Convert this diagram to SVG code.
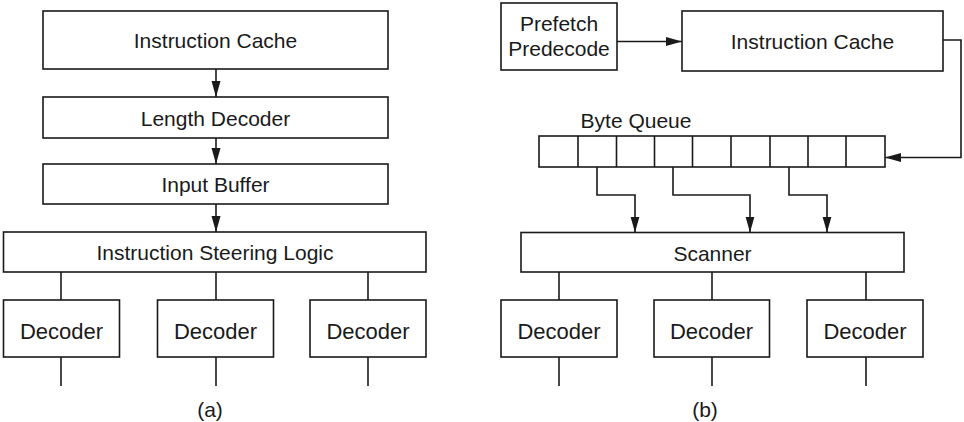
<svg xmlns="http://www.w3.org/2000/svg" width="964" height="422" viewBox="0 0 964 422">
<defs>
<style>
rect{fill:#fff;stroke:#1a1a1a;stroke-width:1.6}
.c{fill:none;stroke:#1a1a1a;stroke-width:1.6}
.a{marker-end:url(#ah)}
text{font-family:"Liberation Sans",Arial,sans-serif;font-size:21px;fill:#1a1a1a;text-anchor:middle}
.d{font-size:22px}
</style>
<marker id="ah" markerUnits="userSpaceOnUse" markerWidth="16" markerHeight="10" refX="16" refY="4.5" orient="auto" viewBox="0 0 16 9">
<path d="M0,0 L16,4.5 L0,9 Z" fill="#1a1a1a"/>
</marker>
</defs>
<rect x="0" y="0" width="964" height="422" style="fill:#fff;stroke:none"/>
<g id="connectors">
<line class="c a" x1="216" y1="69" x2="216" y2="97"/>
<line class="c a" x1="216" y1="138" x2="216" y2="164"/>
<line class="c a" x1="216" y1="204" x2="216" y2="232"/>
<line class="c" x1="61" y1="272" x2="61" y2="300"/>
<line class="c" x1="216" y1="272" x2="216" y2="300"/>
<line class="c" x1="368" y1="272" x2="368" y2="300"/>
<line class="c" x1="61" y1="357" x2="61" y2="386"/>
<line class="c" x1="216" y1="357" x2="216" y2="386"/>
<line class="c" x1="368" y1="357" x2="368" y2="386"/>
<line class="c a" x1="617" y1="41.5" x2="682" y2="41.5"/>
<polyline class="c a" points="943,40 961,40 961,157.5 885,157.5"/>
<polyline class="c a" points="597,167 597,195 635,195 635,232.5"/>
<polyline class="c a" points="673,167 673,195 750,195 750,232.5"/>
<polyline class="c a" points="789,167 789,195 827,195 827,232.5"/>
<line class="c" x1="559" y1="272" x2="559" y2="300"/>
<line class="c" x1="712" y1="272" x2="712" y2="300"/>
<line class="c" x1="866" y1="272" x2="866" y2="300"/>
<line class="c" x1="559" y1="357" x2="559" y2="386"/>
<line class="c" x1="712" y1="357" x2="712" y2="386"/>
<line class="c" x1="866" y1="357" x2="866" y2="386"/>
</g>
<g id="a-icache"><rect x="43" y="11" width="345" height="58"/><text x="215.5" y="48">Instruction Cache</text></g>
<g id="a-length"><rect x="43" y="97" width="345" height="41"/><text x="215.5" y="126">Length Decoder</text></g>
<g id="a-input"><rect x="43" y="164" width="345" height="40"/><text x="215.5" y="192">Input Buffer</text></g>
<g id="a-steer"><rect x="3.5" y="232" width="422.5" height="40"/><text x="215" y="260">Instruction Steering Logic</text></g>
<g id="a-dec1"><rect x="3.5" y="300" width="116" height="57"/><text class="d" x="61.5" y="339">Decoder</text></g>
<g id="a-dec2"><rect x="157.5" y="300" width="116" height="57"/><text class="d" x="215.5" y="339">Decoder</text></g>
<g id="a-dec3"><rect x="310" y="300" width="116" height="57"/><text class="d" x="368" y="339">Decoder</text></g>
<g id="a-label"><text x="210" y="417">(a)</text></g>
<g id="b-prefetch"><rect x="501" y="3" width="116" height="67"/><text x="559" y="31">Prefetch</text><text x="559" y="56">Predecode</text></g>
<g id="b-icache"><rect x="682" y="11" width="261" height="60"/><text x="812.5" y="49">Instruction Cache</text></g>
<g id="b-bytequeue">
<text x="636" y="128">Byte Queue</text>
<rect x="539" y="136" width="346" height="31"/>
<line class="c" x1="578" y1="136" x2="578" y2="167"/>
<line class="c" x1="616.5" y1="136" x2="616.5" y2="167"/>
<line class="c" x1="654.5" y1="136" x2="654.5" y2="167"/>
<line class="c" x1="692.5" y1="136" x2="692.5" y2="167"/>
<line class="c" x1="731" y1="136" x2="731" y2="167"/>
<line class="c" x1="770" y1="136" x2="770" y2="167"/>
<line class="c" x1="808" y1="136" x2="808" y2="167"/>
<line class="c" x1="846" y1="136" x2="846" y2="167"/>
</g>
<g id="b-scanner"><rect x="521" y="232.5" width="383" height="39.5"/><text x="712.5" y="260.5">Scanner</text></g>
<g id="b-dec1"><rect x="501" y="300" width="116" height="57"/><text class="d" x="559" y="339">Decoder</text></g>
<g id="b-dec2"><rect x="654" y="300" width="115.5" height="57"/><text class="d" x="711.5" y="339">Decoder</text></g>
<g id="b-dec3"><rect x="807" y="300" width="116" height="57"/><text class="d" x="865" y="339">Decoder</text></g>
<g id="b-label"><text x="705" y="417">(b)</text></g>
</svg>
